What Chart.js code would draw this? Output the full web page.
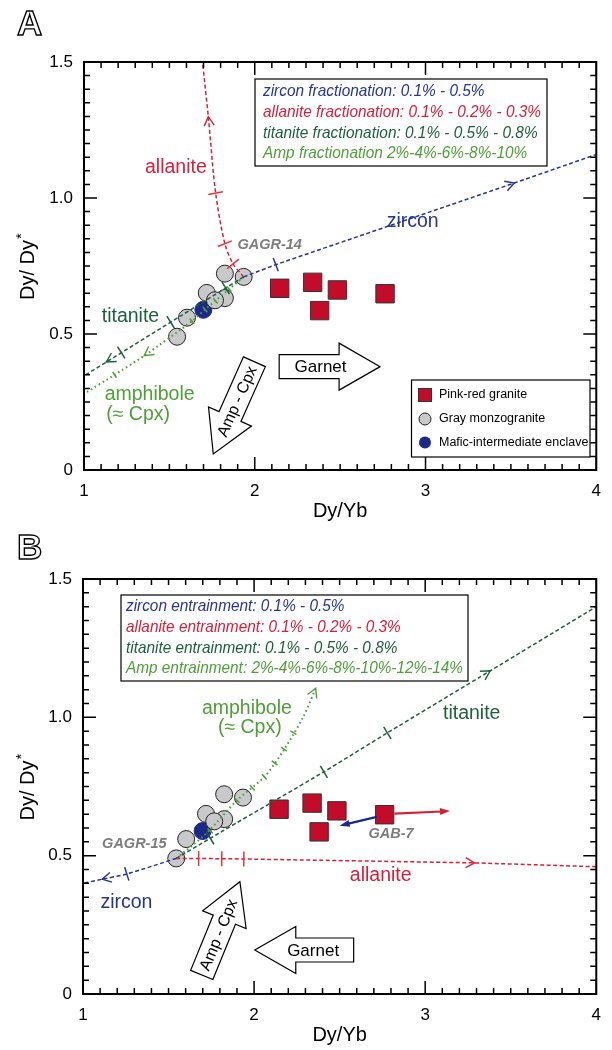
<!DOCTYPE html>
<html>
<head>
<meta charset="utf-8">
<script src="https://cdn.jsdelivr.net/npm/chart.js@4.4.1/dist/chart.umd.min.js"></script>
<style>
  body { margin: 0; background: #fff; }
  .panel { position: absolute; left: 0; width: 612px; height: 525px; }
</style>
</head>
<body>
<div class="panel" style="top:0"><canvas id="chartA" width="612" height="525"></canvas></div>
<div class="panel" style="top:525px"><canvas id="chartB" width="612" height="525"></canvas></div>
<script>
// ---- axes ----
const xTicks = [1, 2, 3, 4];
const yTicks = [0, 0.5, 1.0, 1.5];

// ---- samples (Dy/Yb, Dy/Dy*) - same in both panels ----
const pinkRedX = [2.146, 2.339, 2.484, 2.380, 2.763];
const pinkRedY = [0.668, 0.690, 0.662, 0.586, 0.648];
const grayX = [1.825, 1.935, 1.719, 1.825, 1.767, 1.603, 1.545];
const grayY = [0.722, 0.710, 0.651, 0.632, 0.624, 0.560, 0.490];
const enclaveX = [1.699];
const enclaveY = [0.589];

// ---- panel A model curves (fractionation) ----
const zirconAX = [1.935, 2.123, 3.52, 4.0];
const zirconAY = [0.71, 0.755, 1.055, 1.16];
const zirconATickX = [2.123], zirconATickY = [0.755];
const zirconAArrowX = [3.52], zirconAArrowY = [1.055];

const allaniteAX = [1.935, 1.873, 1.825, 1.771, 1.728, 1.694];
const allaniteAY = [0.71, 0.758, 0.832, 1.018, 1.299, 1.5];
const allaniteATickX = [1.873, 1.825, 1.771], allaniteATickY = [0.758, 0.832, 1.018];
const allaniteAArrowX = [1.728], allaniteAArrowY = [1.299];

const titaniteAX = [1.935, 1.0];
const titaniteAY = [0.71, 0.346];
const titaniteATickX = [1.83, 1.507, 1.218], titaniteATickY = [0.669, 0.544, 0.432];
const titaniteAArrowX = [1.131], titaniteAArrowY = [0.397];

const ampAX = [1.935, 1.85, 1.77, 1.709, 1.632, 1.353, 1.179, 1.0];
const ampAY = [0.71, 0.665, 0.622, 0.59, 0.547, 0.42, 0.35, 0.28];
const ampATickX = [1.85, 1.77, 1.709, 1.632, 1.179], ampATickY = [0.665, 0.622, 0.59, 0.547, 0.35];
const ampAArrowX = [1.353], ampAArrowY = [0.42];

// ---- panel B model curves (entrainment) ----
const zirconBX = [1.545, 1.256, 1.112, 1.0];
const zirconBY = [0.49, 0.434, 0.415, 0.40];
const zirconBTickX = [1.256], zirconBTickY = [0.434];
const zirconBArrowX = [1.112], zirconBArrowY = [0.415];

const allaniteBX = [1.545, 1.676, 1.811, 1.94, 3.289, 4.0];
const allaniteBY = [0.49, 0.49, 0.489, 0.488, 0.474, 0.46];
const allaniteBTickX = [1.676, 1.811, 1.94], allaniteBTickY = [0.49, 0.489, 0.488];
const allaniteBArrowX = [3.289], allaniteBArrowY = [0.474];

const titaniteBX = [1.545, 1.744, 2.408, 2.779, 3.38, 4.0];
const titaniteBY = [0.49, 0.563, 0.803, 0.944, 1.168, 1.40];
const titaniteBTickX = [1.744, 2.408, 2.779], titaniteBTickY = [0.563, 0.803, 0.944];
const titaniteBArrowX = [3.38], titaniteBArrowY = [1.168];

const ampBX = [1.545, 1.72, 1.90, 2.06, 2.18, 2.29, 2.36];
const ampBY = [0.49, 0.58, 0.70, 0.785, 0.888, 1.005, 1.105];
const ampBTickX = [1.743, 1.90, 1.99, 2.06, 2.12, 2.175, 2.23];
const ampBTickY = [0.59, 0.70, 0.745, 0.785, 0.835, 0.885, 0.945];
const ampBArrowX = [2.36], ampBArrowY = [1.105];

// GAB-7 vectors (from, to)
const gabRedX = [2.82, 3.145], gabRedY = [0.652, 0.661];
const gabBlueX = [2.717, 2.50], gabBlueY = [0.64, 0.608];

// legend texts
const legendA = [
  'zircon fractionation: 0.1% - 0.5%',
  'allanite fractionation: 0.1% - 0.2% - 0.3%',
  'titanite fractionation: 0.1% - 0.5% - 0.8%',
  'Amp fractionation 2%-4%-6%-8%-10%'
];
const legendB = [
  'zircon entrainment: 0.1% - 0.5%',
  'allanite entrainment: 0.1% - 0.2% - 0.3%',
  'titanite entrainment: 0.1% - 0.5% - 0.8%',
  'Amp entrainment: 2%-4%-6%-8%-10%-12%-14%'
];
const sampleNames = ['Pink-red granite', 'Gray monzogranite', 'Mafic-intermediate enclave'];

// colours
const ZIRCON = '#27358f';
const ALLANITE = '#d3213a';
const ALLANITE_TICK = '#e8333a';
const TITANITE = '#1b5f3c';
const AMP = '#4f9e37';
const SQUARE = '#c20c2a';
const GRAY = '#c9c9cc';
const ENCLAVE = '#1b2a8a';
const LABEL_GRAY = '#7d7d7d';
const FONT = '"Liberation Sans", Arial, sans-serif';

const pts = (xs, ys) => xs.map((x, i) => ({ x, y: ys[i] }));

function curve(xs, ys, color, dotted, tension) {
  return {
    data: pts(xs, ys), showLine: true, borderColor: color,
    borderWidth: dotted ? 2 : 1.5, borderDash: dotted ? [1.6, 3] : [4, 2.5],
    pointRadius: 0, tension: tension || 0, fill: false, order: 1
  };
}
function sampleSets() {
  return [
    { data: pts(pinkRedX, pinkRedY), pointStyle: 'rect', pointRadius: 13, backgroundColor: SQUARE, borderColor: '#333', borderWidth: 1, order: 3 },
    { data: pts(grayX, grayY), pointStyle: 'circle', pointRadius: 8.5, backgroundColor: GRAY, borderColor: '#222', borderWidth: 1, order: 2 },
    { data: pts(enclaveX, enclaveY), pointStyle: 'circle', pointRadius: 8.5, backgroundColor: ENCLAVE, borderColor: ENCLAVE, borderWidth: 1, order: 2 }
  ];
}

// extra drawing per panel
const extras = {
  chartA: {
    letter: 'A', letterY: 35,
    marks: [
      { xs: zirconAX, ys: zirconAY, tx: zirconATickX, ty: zirconATickY, ax: zirconAArrowX, ay: zirconAArrowY, color: ZIRCON, tick: ZIRCON, len: 14 },
      { xs: allaniteAX, ys: allaniteAY, tx: allaniteATickX, ty: allaniteATickY, ax: allaniteAArrowX, ay: allaniteAArrowY, color: ALLANITE, tick: ALLANITE_TICK, len: 15 },
      { xs: titaniteAX, ys: titaniteAY, tx: titaniteATickX, ty: titaniteATickY, ax: titaniteAArrowX, ay: titaniteAArrowY, color: TITANITE, tick: TITANITE, len: 14 },
      { xs: ampAX, ys: ampAY, tx: ampATickX, ty: ampATickY, ax: ampAArrowX, ay: ampAArrowY, color: AMP, tick: AMP, len: 7 }
    ],
    labels: [
      { t: 'allanite', x: 1.538, y: 1.113, c: ALLANITE, f: '19.5px ' + FONT },
      { t: 'zircon', x: 2.925, y: 0.914, c: ZIRCON, f: '19.5px ' + FONT },
      { t: 'titanite', x: 1.272, y: 0.564, c: TITANITE, f: '19.5px ' + FONT },
      { t: 'amphibole', x: 1.121, y: 0.276, c: AMP, f: '19.5px ' + FONT, a: 'left' },
      { t: '(\u2248 Cpx)', x: 1.13, y: 0.203, c: AMP, f: '19.5px ' + FONT, a: 'left' },
      { t: 'GAGR-14', x: 2.087, y: 0.826, c: LABEL_GRAY, f: 'italic bold 14.5px ' + FONT }
    ],
    fat: [
      { t: 'Garnet', x0: 2.143, y0: 0.38, x1: 2.734, y1: 0.38 },
      { t: 'Amp - Cpx', x0: 1.998, y0: 0.398, x1: 1.757, y1: 0.059 }
    ],
    box: { x: 255, y: 79, w: 292, h: 87, lines: legendA, tw: 278, ty: 91.7 },
    samples: true,
    vectors: []
  },
  chartB: {
    letter: 'B', letterY: 34,
    marks: [
      { xs: zirconBX, ys: zirconBY, tx: zirconBTickX, ty: zirconBTickY, ax: zirconBArrowX, ay: zirconBArrowY, color: ZIRCON, tick: ZIRCON, len: 14 },
      { xs: allaniteBX, ys: allaniteBY, tx: allaniteBTickX, ty: allaniteBTickY, ax: allaniteBArrowX, ay: allaniteBArrowY, color: ALLANITE, tick: ALLANITE_TICK, len: 15 },
      { xs: titaniteBX, ys: titaniteBY, tx: titaniteBTickX, ty: titaniteBTickY, ax: titaniteBArrowX, ay: titaniteBArrowY, color: TITANITE, tick: TITANITE, len: 14 },
      { xs: ampBX, ys: ampBY, tx: ampBTickX, ty: ampBTickY, ax: ampBArrowX, ay: ampBArrowY, color: AMP, tick: AMP, len: 7 }
    ],
    labels: [
      { t: 'zircon', x: 1.254, y: 0.332, c: ZIRCON, f: '19.5px ' + FONT },
      { t: 'allanite', x: 2.74, y: 0.428, c: ALLANITE, f: '19.5px ' + FONT },
      { t: 'titanite', x: 3.272, y: 1.015, c: TITANITE, f: '19.5px ' + FONT },
      { t: 'amphibole', x: 1.958, y: 1.03, c: AMP, f: '19.5px ' + FONT },
      { t: '(\u2248 Cpx)', x: 1.975, y: 0.963, c: AMP, f: '19.5px ' + FONT },
      { t: 'GAGR-15', x: 1.30, y: 0.542, c: LABEL_GRAY, f: 'italic bold 14.5px ' + FONT },
      { t: 'GAB-7', x: 2.80, y: 0.58, c: LABEL_GRAY, f: 'italic bold 14.5px ' + FONT }
    ],
    fat: [
      { t: 'Garnet', x0: 2.582, y0: 0.159, x1: 2.004, y1: 0.159 },
      { t: 'Amp - Cpx', x0: 1.694, y0: 0.069, x1: 1.917, y1: 0.406 }
    ],
    box: { x: 121, y: 70, w: 347, h: 86, lines: legendB, tw: 337, ty: 81.7 },
    samples: false,
    vectors: [
      { xs: gabRedX, ys: gabRedY, c: ALLANITE },
      { xs: gabBlueX, ys: gabBlueY, c: ENCLAVE }
    ]
  }
};

// nearest segment direction (pixel space) of a curve at a pixel point
function dirAt(px, py, P) {
  let best = 1e9, d = [1, 0];
  for (let i = 0; i < P.length - 1; i++) {
    const [x0, y0] = P[i], [x1, y1] = P[i + 1];
    const dx = x1 - x0, dy = y1 - y0, L2 = dx * dx + dy * dy || 1;
    let t = ((px - x0) * dx + (py - y0) * dy) / L2;
    t = Math.max(0, Math.min(1, t));
    const ex = x0 + t * dx - px, ey = y0 + t * dy - py, dist = ex * ex + ey * ey;
    if (dist < best) { best = dist; const L = Math.sqrt(L2); d = [dx / L, dy / L]; }
  }
  return d;
}

function drawFatArrow(ctx, sx, sy, ex, ey, label) {
  const dx = ex - sx, dy = ey - sy, L = Math.hypot(dx, dy);
  const ux = dx / L, uy = dy / L, nx = -uy, ny = ux;
  const bw = 12, hw = 23.5, hl = 41;
  const bx = ex - ux * hl, by = ey - uy * hl;
  const p = [
    [sx + nx * bw, sy + ny * bw], [bx + nx * bw, by + ny * bw], [bx + nx * hw, by + ny * hw],
    [ex, ey], [bx - nx * hw, by - ny * hw], [bx - nx * bw, by - ny * bw], [sx - nx * bw, sy - ny * bw]
  ];
  ctx.beginPath();
  p.forEach(([x, y], i) => i ? ctx.lineTo(x, y) : ctx.moveTo(x, y));
  ctx.closePath();
  ctx.fillStyle = '#fff'; ctx.fill();
  ctx.strokeStyle = '#000'; ctx.lineWidth = 1.2; ctx.stroke();
  // text along the body, reading left-to-right / bottom-to-top
  const f = label === 'Garnet' ? 0.41 : 0.43;
  const cx = sx + dx * f, cy = sy + dy * f;
  let ang = Math.atan2(dy, dx);
  if (Math.cos(ang) < -1e-6 || (Math.abs(Math.cos(ang)) < 1e-6 && Math.sin(ang) > 0)) ang += Math.PI;
  ctx.save();
  ctx.translate(cx, cy); ctx.rotate(ang);
  ctx.fillStyle = '#000';
  ctx.font = (label === 'Garnet' ? '17px ' : '16px ') + FONT;
  ctx.textAlign = 'center'; ctx.textBaseline = 'middle';
  ctx.fillText(label, 0, 1);
  ctx.restore();
}

const framePlugin = {
  id: 'frame',
  afterDraw(chart) {
    const ex = extras[chart.canvas.id];
    const { ctx, chartArea: a } = chart;
    const xs = chart.scales.x, ys = chart.scales.y;
    const P = (x, y) => [xs.getPixelForValue(x), ys.getPixelForValue(y)];
    ctx.save();

    // model curve ticks and chevrons
    ex.marks.forEach(m => {
      const path = m.xs.map((x, i) => P(x, m.ys[i]));
      ctx.strokeStyle = m.tick; ctx.lineWidth = 1.5; ctx.setLineDash([]);
      m.tx.forEach((x, i) => {
        const [px, py] = P(x, m.ty[i]);
        const [ux, uy] = dirAt(px, py, path);
        const h = m.len / 2;
        ctx.beginPath();
        ctx.moveTo(px - uy * h, py + ux * h); ctx.lineTo(px + uy * h, py - ux * h);
        ctx.stroke();
      });
      ctx.strokeStyle = m.color; ctx.lineWidth = 1.4;
      m.ax.forEach((x, i) => {
        const [px, py] = P(x, m.ay[i]);
        const [ux, uy] = dirAt(px, py, path);
        ctx.beginPath();
        ctx.moveTo(px - ux * 9 - uy * 5, py - uy * 9 + ux * 5);
        ctx.lineTo(px, py);
        ctx.lineTo(px - ux * 9 + uy * 5, py - uy * 9 - ux * 5);
        ctx.stroke();
      });
    });

    // GAB-7 vectors
    ex.vectors.forEach(v => {
      const [x0, y0] = P(v.xs[0], v.ys[0]), [x1, y1] = P(v.xs[1], v.ys[1]);
      const L = Math.hypot(x1 - x0, y1 - y0), ux = (x1 - x0) / L, uy = (y1 - y0) / L;
      ctx.strokeStyle = v.c; ctx.fillStyle = v.c; ctx.lineWidth = 2.2;
      ctx.beginPath(); ctx.moveTo(x0, y0); ctx.lineTo(x1 - ux * 8, y1 - uy * 8); ctx.stroke();
      ctx.beginPath();
      ctx.moveTo(x1, y1);
      ctx.lineTo(x1 - ux * 10 - uy * 3.5, y1 - uy * 10 + ux * 3.5);
      ctx.lineTo(x1 - ux * 10 + uy * 3.5, y1 - uy * 10 - ux * 3.5);
      ctx.closePath(); ctx.fill();
    });

    // text labels
    ex.labels.forEach(l => {
      const [px, py] = P(l.x, l.y);
      ctx.font = l.f; ctx.fillStyle = l.c;
      ctx.textAlign = l.a || 'center'; ctx.textBaseline = 'middle';
      ctx.fillText(l.t, px, py);
    });

    // fat arrows
    ex.fat.forEach(f => {
      const [sx, sy] = P(f.x0, f.y0), [tx, ty] = P(f.x1, f.y1);
      drawFatArrow(ctx, sx, sy, tx, ty, f.t);
    });

    // model legend box
    const b = ex.box;
    ctx.fillStyle = '#fff'; ctx.fillRect(b.x, b.y, b.w, b.h);
    ctx.strokeStyle = '#000'; ctx.lineWidth = 1.2; ctx.strokeRect(b.x, b.y, b.w, b.h);
    ctx.font = 'italic 16.5px ' + FONT;
    const widest = Math.max(...b.lines.map(s => ctx.measureText(s).width));
    const k = b.tw / widest;
    const cols = [ZIRCON, ALLANITE, TITANITE, AMP];
    b.lines.forEach((s, i) => {
      ctx.save();
      ctx.translate(b.x + (b.x > 200 ? 8 : 5), b.ty + i * 20.7);
      ctx.scale(k, 1);
      ctx.fillStyle = cols[i]; ctx.textAlign = 'left'; ctx.textBaseline = 'middle';
      ctx.fillText(s, 0, 0);
      ctx.restore();
    });

    // sample legend
    if (ex.samples) {
      ctx.fillStyle = '#fff'; ctx.fillRect(411.5, 380, 178.5, 77);
      ctx.strokeStyle = '#000'; ctx.lineWidth = 1.2; ctx.strokeRect(411.5, 380, 178.5, 77);
      const rows = [395, 419, 442.5];
      ctx.lineWidth = 1;
      ctx.fillStyle = SQUARE; ctx.strokeStyle = '#333';
      ctx.fillRect(418.5, rows[0] - 6.5, 13, 13); ctx.strokeRect(418.5, rows[0] - 6.5, 13, 13);
      ctx.beginPath(); ctx.arc(425, rows[1], 6, 0, Math.PI * 2);
      ctx.fillStyle = GRAY; ctx.fill(); ctx.strokeStyle = '#222'; ctx.stroke();
      ctx.beginPath(); ctx.arc(425, rows[2], 6, 0, Math.PI * 2);
      ctx.fillStyle = ENCLAVE; ctx.fill();
      ctx.font = '12.5px ' + FONT; ctx.fillStyle = '#000';
      ctx.textAlign = 'left'; ctx.textBaseline = 'middle';
      sampleNames.forEach((s, i) => ctx.fillText(s, 439, rows[i]));
    }

    // frame with inward ticks on all four sides
    ctx.strokeStyle = '#000'; ctx.lineWidth = 2;
    ctx.strokeRect(a.left, a.top, a.right - a.left, a.bottom - a.top);
    ctx.lineWidth = 1.5;
    ctx.beginPath();
    for (let i = 10; i <= 40; i++) {
      const px = xs.getPixelForValue(i / 10), len = i % 10 === 0 ? 13 : 6;
      ctx.moveTo(px, a.bottom); ctx.lineTo(px, a.bottom - len);
      ctx.moveTo(px, a.top); ctx.lineTo(px, a.top + len);
    }
    for (let i = 0; i <= 30; i++) {
      const py = ys.getPixelForValue(i * 0.05), len = i % 10 === 0 ? 13 : 6;
      ctx.moveTo(a.left, py); ctx.lineTo(a.left + len, py);
      ctx.moveTo(a.right, py); ctx.lineTo(a.right - len, py);
    }
    ctx.stroke();

    // axis titles
    ctx.fillStyle = '#000'; ctx.font = '20px ' + FONT;
    ctx.textAlign = 'center'; ctx.textBaseline = 'middle';
    ctx.fillText('Dy/Yb', (a.left + a.right) / 2, a.bottom + 41);
    ctx.save();
    ctx.translate(28, (a.top + a.bottom) / 2);
    ctx.rotate(-Math.PI / 2);
    ctx.textAlign = 'left';
    const t1 = 'Dy/ Dy', w1 = ctx.measureText(t1).width;
    ctx.fillText(t1, -w1 / 2 - 4, 0);
    ctx.font = '15px ' + FONT;
    ctx.fillText('*', w1 / 2 - 3, -6);
    ctx.restore();

    // panel letter
    ctx.font = 'bold 35px ' + FONT; ctx.textAlign = 'left'; ctx.textBaseline = 'alphabetic';
    ctx.strokeStyle = '#000'; ctx.lineWidth = 1.4;
    ctx.strokeText(ex.letter, 17, ex.letterY);
    ctx.restore();
  }
};

function makeChart(id, curves, padTop, left, bottomH) {
  new Chart(document.getElementById(id), {
    type: 'scatter',
    data: { datasets: curves.concat(sampleSets()) },
    options: {
      responsive: false, animation: false, devicePixelRatio: 1,
      layout: { padding: { top: padTop, right: 9, left: 0, bottom: 0 } },
      plugins: { legend: { display: false }, tooltip: { enabled: false } },
      scales: {
        x: {
          type: 'linear', min: 1, max: 4,
          grid: { display: false, drawTicks: false }, border: { display: false },
          afterBuildTicks: s => { s.ticks = xTicks.map(v => ({ value: v })); },
          afterFit: s => { s.height = bottomH; },
          ticks: { padding: 11, color: '#000', font: { size: 17, family: FONT } }
        },
        y: {
          type: 'linear', min: 0, max: 1.5,
          grid: { display: false, drawTicks: false }, border: { display: false },
          afterBuildTicks: s => { s.ticks = yTicks.map(v => ({ value: v })); },
          afterFit: s => { s.width = left; },
          ticks: {
            padding: 11, color: '#000', font: { size: 17, family: FONT },
            callback: v => (v === 0 ? '0' : v.toFixed(1))
          }
        }
      }
    },
    plugins: [framePlugin]
  });
}

makeChart('chartA', [
  curve(zirconAX, zirconAY, ZIRCON, false, 0),
  curve(allaniteAX, allaniteAY, ALLANITE, false, 0.3),
  curve(titaniteAX, titaniteAY, TITANITE, false, 0),
  curve(ampAX, ampAY, AMP, true, 0.2)
], 62, 84, 55);

makeChart('chartB', [
  curve(zirconBX, zirconBY, ZIRCON, false, 0.3),
  curve(allaniteBX, allaniteBY, ALLANITE, false, 0),
  curve(titaniteBX, titaniteBY, TITANITE, false, 0.2),
  curve(ampBX, ampBY, AMP, true, 0.3)
], 54, 83, 56);
</script>
</body>
</html>
